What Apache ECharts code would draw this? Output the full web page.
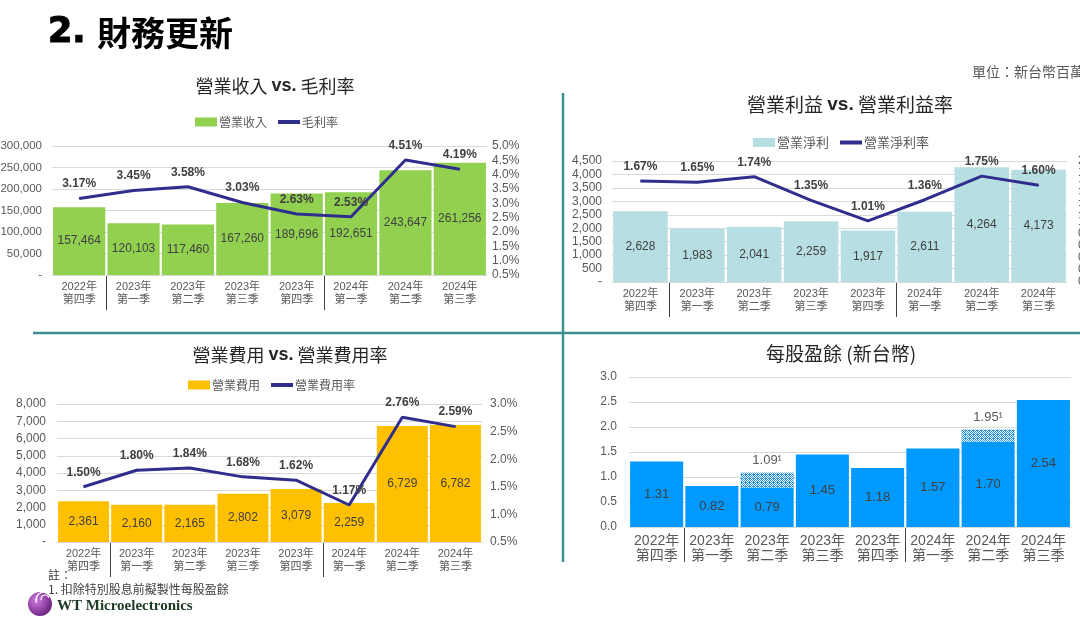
<!DOCTYPE html>
<html><head><meta charset="utf-8">
<script src="https://cdn.jsdelivr.net/npm/echarts@6/dist/echarts.min.js"></script>
<style>html,body{margin:0;padding:0;background:#fff}#c{width:1080px;height:618px}</style>
</head><body><div id="c"></div>
<script>
// ---- data ----
const years = ['2022年','2023年','2023年','2023年','2023年','2024年','2024年','2024年'];
const quarters = ['第四季','第一季','第二季','第三季','第四季','第一季','第二季','第三季'];
const revenue = [157464,120103,117460,167260,189696,192651,243647,261256];
const grossMargin = [3.17,3.45,3.58,3.03,2.63,2.53,4.51,4.19];
const opIncome = [2628,1983,2041,2259,1917,2611,4264,4173];
const opMargin = [1.67,1.65,1.74,1.35,1.01,1.36,1.75,1.60];
const opExpense = [2361,2160,2165,2802,3079,2259,6729,6782];
const opExpenseRatio = [1.50,1.80,1.84,1.68,1.62,1.17,2.76,2.59];
const eps = [1.31,0.82,0.79,1.45,1.18,1.57,1.70,2.54];
const epsProForma = [null,null,1.09,null,null,null,1.95,null];

const FONT = "'Liberation Sans','Noto Sans CJK TC',sans-serif";
const CJK = "'Noto Sans CJK TC','Liberation Sans',sans-serif";
const LINE = '#302e8c';
const categories = years.map((y,i)=>y+'\n'+quarters[i]);

const chart = echarts.init(document.getElementById('c'), null, {renderer:'canvas'});

function fmtNum(v){ return v===0 ? '-' : v.toLocaleString('en-US'); }
function catAxis(g, fs, lh, margin){
  return {type:'category', gridIndex:g, data:categories,
    axisLine:{lineStyle:{color:'#d9d9d9', width:1}}, axisTick:{show:false},
    axisLabel:{color:'#595959', fontSize:fs, lineHeight:lh, margin:margin, fontFamily:FONT, interval:0}};
}
function valAxis(g, min, max, interval, fmt, split, pos, fs, margin){
  return {type:'value', gridIndex:g, min:min, max:max, interval:interval, position:pos||'left',
    axisLine:{show:false}, axisTick:{show:false},
    splitLine:{show:!!split, lineStyle:{color:'#d9d9d9'}},
    axisLabel:{color:'#595959', fontSize:fs||12, fontFamily:FONT, formatter:fmt, margin:margin||6}};
}
const pctFmt = v => v.toFixed(1)+'%';
function barSeries(name, data, x, y, color, fs){
  return {name:name, type:'bar', xAxisIndex:x, yAxisIndex:y, data:data, barCategoryGap:'4%',
    itemStyle:{color:color},
    label:{show:true, position:'inside', color:'#404040', fontSize:fs||12, fontFamily:FONT, formatter:p=>p.value.toLocaleString('en-US')}};
}
function lineSeries(name, data, x, y){
  return {name:name, type:'line', xAxisIndex:x, yAxisIndex:y, data:data, z:5,
    symbol:'circle', symbolSize:1, itemStyle:{color:LINE}, lineStyle:{color:LINE, width:3},
    label:{show:true, position:'top', distance:8, color:'#404040', fontSize:12, fontWeight:'bold', fontFamily:FONT, formatter:p=>p.value.toFixed(2)+'%'}};
}

// pattern for pro-forma EPS segment
const pc = document.createElement('canvas'); pc.width = 4; pc.height = 4;
const pg = pc.getContext('2d');
pg.fillStyle = '#ffffff'; pg.fillRect(0,0,4,4);
pg.fillStyle = '#1f93ee';
for (let yy=0; yy<4; yy++) for (let xx=0; xx<4; xx++) if ((xx+yy)%2===0 || (xx===1 && yy===2)) pg.fillRect(xx,yy,1,1);

const lineIcon = 'path://M0,0H22V4H0Z';
function legend(names, left, top, fs){
  return {left:left, top:top, itemWidth:22, itemHeight:9, itemGap:11, selectedMode:false,
    textStyle:{color:'#595959', fontSize:fs, fontFamily:CJK, padding:[0,0,0,-3]},
    data:[{name:names[0], icon:'rect'}, {name:names[1], icon:lineIcon}]};
}

const graphics = [
  {id:'vdiv', type:'line', shape:{x1:563,y1:93,x2:563,y2:562}, style:{stroke:'#3d8f8f', lineWidth:2.5}, z:10},
  {id:'hdiv', type:'line', shape:{x1:33,y1:333,x2:1080,y2:333}, style:{stroke:'#3d8f8f', lineWidth:2.5}, z:10},
  {id:'slideNum', type:'text', x:48, y:33, style:{text:'2.', textVerticalAlign:'middle',
    fontFamily:"'DejaVu Sans',sans-serif", fontWeight:'bold', fontSize:35, fill:'#000', stroke:'#000', lineWidth:1.2}},
  {id:'slideTitle', type:'text', x:97, y:33, style:{text:'財務更新', textVerticalAlign:'middle',
    fontFamily:CJK, fontWeight:'bold', fontSize:34, fill:'#000'}},
  {id:'unit', type:'text', x:972, y:72, style:{text:'單位：新台幣百萬', fontFamily:CJK, fontSize:14, fill:'#595959', textVerticalAlign:'middle'}},
  {id:'t1', type:'text', x:275, y:86, style:{text:'{a|營業收入 }{b|vs.}{a| 毛利率}', textAlign:'center', textVerticalAlign:'middle',
    rich:{a:{fontFamily:CJK, fontSize:18, fill:'#262626'}, b:{fontFamily:FONT, fontWeight:'bold', fontSize:18, fill:'#262626'}}}},
  {id:'t2', type:'text', x:850, y:105, style:{text:'{a|營業利益 }{b|vs.}{a| 營業利益率}', textAlign:'center', textVerticalAlign:'middle',
    rich:{a:{fontFamily:CJK, fontSize:19, fill:'#262626'}, b:{fontFamily:FONT, fontWeight:'bold', fontSize:19, fill:'#262626'}}}},
  {id:'t3', type:'text', x:290, y:355, style:{text:'{a|營業費用 }{b|vs.}{a| 營業費用率}', textAlign:'center', textVerticalAlign:'middle',
    rich:{a:{fontFamily:CJK, fontSize:18, fill:'#262626'}, b:{fontFamily:FONT, fontWeight:'bold', fontSize:18, fill:'#262626'}}}},
  {id:'t4', type:'text', x:841, y:354, style:{text:'每股盈餘 (新台幣)', textAlign:'center', textVerticalAlign:'middle', fontFamily:CJK, fontSize:19, fill:'#262626'}},
  {id:'note1', type:'text', x:48, y:575, style:{text:'註：', fontFamily:CJK, fontSize:12, fill:'#404040', textVerticalAlign:'middle'}},
  {id:'note2', type:'text', x:48, y:589, style:{text:'1. 扣除特別股息前擬製性每股盈餘', fontFamily:CJK, fontSize:12, fill:'#404040', textVerticalAlign:'middle'}},
  {id:'logoC', type:'circle', shape:{cx:40, cy:604, r:12}, style:{fill:new echarts.graphic.RadialGradient(0.35,0.35,0.8,[{offset:0,color:'#d07be0'},{offset:1,color:'#5a1670'}])}},
  {id:'logoA1', type:'arc', shape:{cx:44, cy:600, r:8, startAngle:Math.PI*0.9, endAngle:Math.PI*1.9}, style:{stroke:'#fff', lineWidth:1.5, fill:null}},
  {id:'logoA2', type:'arc', shape:{cx:45, cy:599, r:4, startAngle:Math.PI*0.9, endAngle:Math.PI*1.9}, style:{stroke:'#fff', lineWidth:1.2, fill:null}},
  {id:'logoT', type:'text', x:57, y:606, style:{text:'WT Microelectronics', fontFamily:"'Liberation Serif',serif", fontWeight:'bold', fontSize:15, fill:'#1f3a22', textVerticalAlign:'middle'}}
];

const option = {
  animation:false,
  backgroundColor:'#ffffff',
  grid:[
    {left:52, right:593, top:146, bottom:343, outerBoundsMode:'none', containLabel:false},
    {left:612, right:13, top:161, bottom:336, outerBoundsMode:'none', containLabel:false},
    {left:57, right:598, top:404, bottom:76, outerBoundsMode:'none', containLabel:false},
    {left:629, right:9, top:377, bottom:91, outerBoundsMode:'none', containLabel:false}
  ],
  legend:[
    legend(['營業收入','毛利率'], 190, 111, 12),
    legend(['營業淨利','營業淨利率'], 748, 131, 13),
    legend(['營業費用','營業費用率'], 183, 374, 12)
  ],
  xAxis:[catAxis(0,11,13,5), catAxis(1,11,13,5), catAxis(2,11,13,5), catAxis(3,14,15,7)],
  yAxis:[
    valAxis(0, 0, 300000, 50000, fmtNum, true, 'left', 11.5, 10),
    valAxis(0, 0.5, 5.0, 0.5, pctFmt, false, 'right', 12, 5),
    valAxis(1, 0, 4500, 500, fmtNum, true, 'left', 12, 10),
    valAxis(1, 0, 2.0, 0.2, pctFmt, false, 'right', 12, 11),
    valAxis(2, 0, 8000, 1000, fmtNum, true, 'left', 12, 11),
    valAxis(2, 0.5, 3.0, 0.5, pctFmt, false, 'right', 12, 8),
    valAxis(3, 0, 3.0, 0.5, v=>v.toFixed(1), true, 'left', 12, 12)
  ],
  series:[
    barSeries('營業收入', revenue, 0, 0, '#92d050'),
    lineSeries('毛利率', grossMargin, 0, 1),
    barSeries('營業淨利', opIncome, 1, 2, '#b7dee2'),
    lineSeries('營業淨利率', opMargin, 1, 3),
    barSeries('營業費用', opExpense, 2, 4, '#ffc000'),
    lineSeries('營業費用率', opExpenseRatio, 2, 5),
    {name:'每股盈餘', type:'bar', xAxisIndex:3, yAxisIndex:6, stack:'eps', data:eps, barCategoryGap:'4%',
      itemStyle:{color:'#0099ff'},
      label:{show:true, position:'inside', color:'#404040', fontSize:13, fontFamily:FONT, formatter:p=>p.value.toFixed(2)}},
    {name:'擬製性每股盈餘', type:'bar', xAxisIndex:3, yAxisIndex:6, stack:'eps', barCategoryGap:'4%',
      data:epsProForma.map((v,i)=> v==null ? null : +(v-eps[i]).toFixed(2)),
      itemStyle:{color:{image:pc, repeat:'repeat'}},
      label:{show:true, position:'top', distance:6, color:'#595959', fontSize:13, fontFamily:FONT,
        formatter:p=> epsProForma[p.dataIndex]==null ? '' : epsProForma[p.dataIndex].toFixed(2)+'¹'}}
  ],
  graphic:graphics
};
chart.setOption(option);

// year-boundary separators under the category axes
const seps = [];
[[0,0],[1,2],[2,4],[3,6]].forEach(([xi,yi],k)=>{
  const y0 = chart.convertToPixel({yAxisIndex:yi}, 0);
  for (let i=1;i<years.length;i++){
    if (years[i]!==years[i-1]){
      const a = chart.convertToPixel({xAxisIndex:xi}, i-1);
      const b = chart.convertToPixel({xAxisIndex:xi}, i);
      const x = Math.round((a+b)/2)+0.5;
      seps.push({id:'sep'+k+'_'+i, type:'line', shape:{x1:x,y1:y0,x2:x,y2:y0+35}, style:{stroke:'#404040', lineWidth:1}});
    }
  }
});
chart.setOption({graphic: graphics.concat(seps)});
</script></body></html>
